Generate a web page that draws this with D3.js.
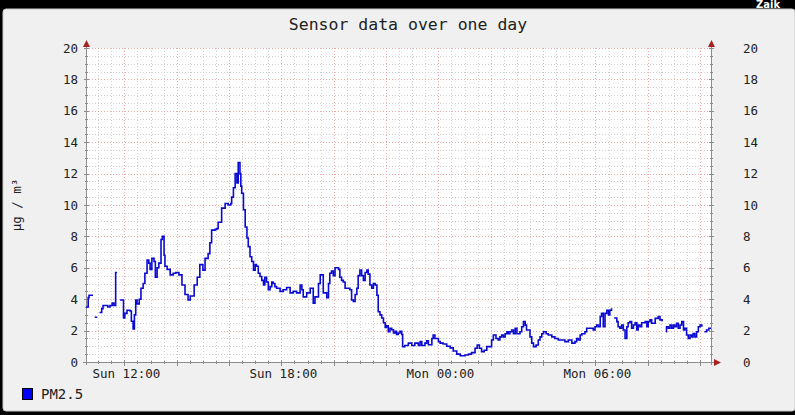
<!DOCTYPE html>
<html><head><meta charset="utf-8">
<script src="https://cdn.jsdelivr.net/npm/d3@7"></script>
<style>html,body{margin:0;padding:0;background:#000;} svg{display:block}</style>
</head><body><svg id="c" width="795" height="415"></svg>
<script>
// ---------- data ----------
const chartTitle = "Sensor data over one day";
const yAxisLabel = "µg / m³";
const seriesName = "PM2.5";
const cornerText = "Zaik";
const startTime = "2024-01-07T10:32"; // Sunday
const endTime = "2024-01-08T10:25";   // Monday
const yTickValues = [0, 2, 4, 6, 8, 10, 12, 14, 16, 18, 20];
const times = [
"10:32","10:37","10:39","10:48","10:49","10:52","10:58","10:59","11:03","11:08",
"11:11","11:18","11:22","11:27","11:32","11:36","11:40","11:43","11:44","11:50",
"11:55","11:58","12:01","12:06","12:13","12:16","12:20","12:23","12:26","12:29",
"12:34","12:38","12:43","12:47","12:52","12:56","12:59","13:03","13:08","13:11",
"13:15","13:19","13:24","13:27","13:31","13:33","13:38","13:45","13:52","13:58",
"14:05","14:12","14:19","14:26","14:31","14:40","14:47","14:53","15:00","15:05",
"15:12","15:16","15:20","15:28","15:32","15:35","15:43","15:51","15:58","16:04",
"16:06","16:10","16:14","16:18","16:21","16:25","16:27","16:29","16:33","16:37",
"16:41","16:44","16:48","16:52","16:56","17:00","17:03","17:07","17:11","17:15",
"17:19","17:22","17:26","17:30","17:34","17:38","17:41","17:45","17:49","17:57",
"18:04","18:12","18:20","18:27","18:35","18:43","18:47","18:50","18:58","19:06",
"19:13","19:17","19:25","19:29","19:36","19:44","19:48","19:51","19:55","19:59",
"20:03","20:11","20:14","20:18","20:22","20:26","20:33","20:37","20:41","20:45",
"20:49","20:53","20:56","21:00","21:04","21:08","21:12","21:16","21:19","21:23",
"21:27","21:31","21:35","21:39","21:42","21:46","21:50","21:54","21:58","22:01",
"22:05","22:09","22:13","22:17","22:21","22:24","22:28","22:32","22:36","22:38",
"22:43","22:51","22:59","23:06","23:14","23:18","23:22","23:29","23:33","23:37",
"23:45","23:48","23:52","00:00","00:04","00:11","00:19","00:27","00:34","00:42",
"00:50","00:57","01:01","01:09","01:16","01:24","01:29","01:34","01:39","01:45",
"01:51","01:57","02:02","02:06","02:12","02:17","02:21","02:25","02:29","02:33",
"02:37","02:40","02:44","02:48","02:52","02:56","03:00","03:07","03:11","03:15",
"03:19","03:22","03:26","03:30","03:34","03:38","03:44","03:49","03:53","03:57",
"04:01","04:07","04:12","04:20","04:27","04:35","04:43","04:50","04:58","05:06",
"05:13","05:17","05:21","05:25","05:29","05:36","05:40","05:48","05:55","05:59",
"06:03","06:07","06:11","06:14","06:18","06:22","06:26","06:30","06:33","06:37",
"06:39","06:43","06:49","06:52","06:56","07:00","07:04","07:08","07:12","07:15",
"07:19","07:23","07:27","07:31","07:35","07:38","07:42","07:46","07:54","07:58",
"08:01","08:05","08:09","08:17","08:24","08:28","08:33","08:36","08:42","08:43",
"08:47","08:51","08:55","08:59","09:02","09:06","09:10","09:14","09:18","09:22",
"09:25","09:29","09:33","09:37","09:41","09:44","09:48","09:52","09:56","10:00",
"10:04","10:05","10:10","10:15","10:20","10:25"
];
const pm25 = [
3.5,4.1,4.25,4.25,null,2.85,2.85,null,3.15,3.4,
3.6,3.6,3.5,3.6,3.75,3.6,5.7,5.7,null,3.95,
3.95,2.8,3.1,3.3,3.25,2.6,2.1,3.0,3.95,3.7,
4.0,4.7,5.0,5.65,6.5,6.3,5.9,6.6,6.4,5.4,
6.0,6.3,7.8,8.0,6.8,6.1,5.9,5.55,5.65,5.7,
5.55,4.9,4.3,3.95,4.2,4.9,5.4,6.2,5.85,6.6,
6.9,7.6,8.4,8.45,8.5,8.9,9.8,10.1,10.0,10.1,
10.5,11.1,12.0,11.4,12.7,12.0,11.2,10.75,9.7,8.6,
7.9,7.35,6.7,6.4,5.85,6.2,6.1,5.65,5.45,5.2,
4.9,5.4,5.1,4.6,4.8,5.1,5.0,4.8,4.7,4.5,
4.6,4.75,4.4,4.5,4.4,4.9,4.6,4.15,4.4,4.7,
3.75,4.15,5.0,5.55,4.4,4.1,5.0,5.65,5.8,5.5,
6.0,5.9,5.4,5.2,5.1,4.7,4.7,4.6,3.95,3.85,
4.3,4.7,5.5,5.85,5.5,5.2,5.7,5.85,5.6,4.9,
4.7,5.0,4.9,4.25,3.2,3.0,2.8,2.5,2.2,2.3,
1.93,2.15,2.05,1.85,1.95,1.75,1.85,1.95,1.75,0.97,
1.05,1.2,1.05,1.2,1.05,1.3,1.05,1.2,1.35,1.1,
1.5,1.72,1.5,1.3,1.2,1.15,1.0,0.9,0.7,0.5,
0.4,0.4,0.45,0.5,0.6,0.88,1.08,0.88,0.66,0.75,
0.98,0.98,1.4,1.72,1.5,1.4,1.6,1.72,1.6,1.8,
1.93,1.8,1.93,2.04,1.8,2.15,1.8,1.93,2.25,2.57,
2.35,2.04,2.04,1.6,1.2,0.98,1.08,1.4,1.6,1.8,
1.93,1.8,1.72,1.6,1.5,1.4,1.4,1.3,1.4,1.2,
1.3,1.5,1.4,1.72,1.8,1.93,2.15,2.15,2.04,2.25,
2.36,2.25,2.9,3.1,2.25,3.1,3.3,3.0,3.3,3.42,
null,2.8,2.57,2.25,2.15,2.36,2.04,1.5,2.25,2.5,
2.57,2.15,2.36,2.5,2.04,2.36,2.25,2.5,2.57,2.25,
2.57,2.68,2.47,2.78,2.9,2.68,2.6,null,1.93,2.25,
2.15,2.36,2.15,2.36,2.25,2.47,2.15,2.36,2.57,2.04,
2.15,1.72,1.5,1.72,1.6,1.82,1.6,1.93,2.25,2.36,
2.25,null,1.93,2.04,2.15,2.15
];

// ---------- build ----------
const svg = d3.select("#c");
const W = 795, H = 415;
const plot = {left: 86, right: 711, top: 48, bottom: 362};
const mono = "'DejaVu Sans Mono', monospace";

// parse clock strings with day rollover
const t0 = new Date(startTime);
let dayOff = 0, prev = -1;
const data = times.map((s, i) => {
  const [h, m] = s.split(":").map(Number);
  const mins = h * 60 + m;
  if (mins < prev) dayOff += 1;
  prev = mins;
  const d = new Date(t0.getFullYear(), t0.getMonth(), t0.getDate() + dayOff, h, m);
  return {t: d, v: pm25[i]};
});

const x = d3.scaleTime().domain([new Date(startTime), new Date(endTime)]).range([plot.left, plot.right]);
const y = d3.scaleLinear().domain([0, 20]).range([plot.bottom, plot.top]);

// background frame
svg.append("rect").attr("x", 0).attr("y", 0).attr("width", W).attr("height", H).attr("fill", "#000");
svg.append("rect").attr("x", 3).attr("y", 9).attr("width", W - 3).attr("height", 402)
  .attr("rx", 3).attr("fill", "#f0f0f0").attr("stroke", "#c9c9c9").attr("stroke-width", 1);
svg.append("text").attr("x", 756).attr("y", 8).attr("fill", "#fff")
  .attr("font-family", "'DejaVu Sans', sans-serif").attr("font-weight", "bold").attr("font-size", 10)
  .text(cornerText);

// canvas
svg.append("rect").attr("x", plot.left).attr("y", plot.top)
  .attr("width", plot.right - plot.left).attr("height", plot.bottom - plot.top).attr("fill", "#fff");

// grids
const g = svg.append("g");
const minorY = d3.range(0, 20.001, 0.5).filter(v => Math.abs(v / 2 - Math.round(v / 2)) > 1e-6);
const minorX = x.ticks(d3.timeMinute.every(30)).filter(d => !(d.getMinutes() === 0 && d.getHours() % 2 === 0));
const majorX = x.ticks(d3.timeHour.every(2));

g.selectAll(".mgy").data(minorY).join("line")
  .attr("x1", plot.left).attr("x2", plot.right)
  .attr("y1", d => Math.round(y(d)) + 0.5).attr("y2", d => Math.round(y(d)) + 0.5)
  .attr("stroke", "#cfcfcf").attr("stroke-dasharray", "1,2").attr("stroke-width", 1);
g.selectAll(".mgx").data(minorX).join("line")
  .attr("x1", d => Math.round(x(d)) + 0.5).attr("x2", d => Math.round(x(d)) + 0.5)
  .attr("y1", plot.top).attr("y2", plot.bottom)
  .attr("stroke", "#cfcfcf").attr("stroke-dasharray", "1,2").attr("stroke-width", 1);
g.selectAll(".Mgy").data(yTickValues.filter(v => v > 0)).join("line")
  .attr("x1", plot.left).attr("x2", plot.right)
  .attr("y1", d => Math.round(y(d)) + 0.5).attr("y2", d => Math.round(y(d)) + 0.5)
  .attr("stroke", "#eeaaaa").attr("stroke-dasharray", "1,2").attr("stroke-width", 1);
g.selectAll(".Mgx").data(majorX).join("line")
  .attr("x1", d => Math.round(x(d)) + 0.5).attr("x2", d => Math.round(x(d)) + 0.5)
  .attr("y1", plot.top).attr("y2", plot.bottom)
  .attr("stroke", "#eeaaaa").attr("stroke-dasharray", "1,2").attr("stroke-width", 1);

// axes lines
const axisColor = "#8c8c8c";
const ax = svg.append("g").attr("stroke", axisColor).attr("stroke-width", 1);
ax.append("line").attr("x1", plot.left + 0.5).attr("x2", plot.left + 0.5).attr("y1", plot.bottom + 3).attr("y2", 44);
ax.append("line").attr("x1", plot.right + 0.5).attr("x2", plot.right + 0.5).attr("y1", plot.bottom + 3).attr("y2", 44);
ax.append("line").attr("x1", plot.left - 3).attr("x2", plot.right + 6).attr("y1", plot.bottom + 0.5).attr("y2", plot.bottom + 0.5);

// ticks on axes
const tk = svg.append("g").attr("stroke", axisColor).attr("stroke-width", 1);
[plot.left, plot.right].forEach(ax0 => {
  tk.selectAll(null).data(yTickValues).join("line")
    .attr("x1", ax0 - 2).attr("x2", ax0 + 3)
    .attr("y1", d => Math.round(y(d)) + 0.5).attr("y2", d => Math.round(y(d)) + 0.5);
  tk.selectAll(null).data(minorY).join("line")
    .attr("x1", ax0 - 1).attr("x2", ax0 + 2)
    .attr("y1", d => Math.round(y(d)) + 0.5).attr("y2", d => Math.round(y(d)) + 0.5);
});
tk.selectAll(null).data(majorX).join("line")
  .attr("x1", d => Math.round(x(d)) + 0.5).attr("x2", d => Math.round(x(d)) + 0.5)
  .attr("y1", plot.bottom - 2).attr("y2", plot.bottom + 4);
tk.selectAll(null).data(minorX).join("line")
  .attr("x1", d => Math.round(x(d)) + 0.5).attr("x2", d => Math.round(x(d)) + 0.5)
  .attr("y1", plot.bottom - 1).attr("y2", plot.bottom + 2);

// arrows
const arrowColor = "#a52323";
const arr = svg.append("g").attr("fill", arrowColor);
[plot.left, plot.right].forEach(ax0 => {
  arr.append("path").attr("d", d3.line()([[ax0 + 0.5, 40], [ax0 - 3, 47], [ax0 + 4, 47]]) + "Z");
});
arr.append("path").attr("d", d3.line()([[plot.right + 10, plot.bottom + 0.5], [plot.right + 3, plot.bottom - 3], [plot.right + 3, plot.bottom + 4]]) + "Z");

// y tick labels
const lab = svg.append("g").attr("font-family", mono).attr("font-size", 12.5).attr("fill", "#222");
lab.selectAll(null).data(yTickValues).join("text")
  .attr("x", plot.left - 8).attr("y", d => y(d) + 4.5).attr("text-anchor", "end").text(d => d);
lab.selectAll(null).data(yTickValues).join("text")
  .attr("x", plot.right + 32).attr("y", d => y(d) + 4.5).attr("text-anchor", "start").text(d => d);

// x tick labels
const fmt = d3.timeFormat("%a %H:%M");
lab.selectAll(null).data(x.ticks(d3.timeHour.every(6))).join("text")
  .attr("x", d => x(d) + 2).attr("y", 378).attr("text-anchor", "middle").text(d => fmt(d));

// title
svg.append("text").attr("x", 408).attr("y", 30).attr("text-anchor", "middle")
  .attr("font-family", mono).attr("font-size", 16.5).attr("fill", "#222").text(chartTitle);

// y axis label
svg.append("text").attr("transform", "translate(21,205) rotate(-90)").attr("text-anchor", "middle")
  .attr("font-family", mono).attr("font-size", 12.5).attr("fill", "#222").text(yAxisLabel);

// series line
const line = d3.line().defined(d => d.v !== null).x(d => x(d.t)).y(d => y(d.v)).curve(d3.curveStepAfter);
svg.append("path").datum(data).attr("d", line)
  .attr("fill", "none").attr("stroke", "#0a0ad2").attr("stroke-width", 1.6).attr("stroke-linejoin", "miter");

// legend
svg.append("rect").attr("x", 22.5).attr("y", 388.5).attr("width", 10).attr("height", 11)
  .attr("fill", "#0000ff").attr("stroke", "#000").attr("stroke-width", 1);
svg.append("text").attr("x", 41).attr("y", 399).attr("font-family", mono).attr("font-size", 14)
  .attr("fill", "#222").text(seriesName);
</script></body></html>
